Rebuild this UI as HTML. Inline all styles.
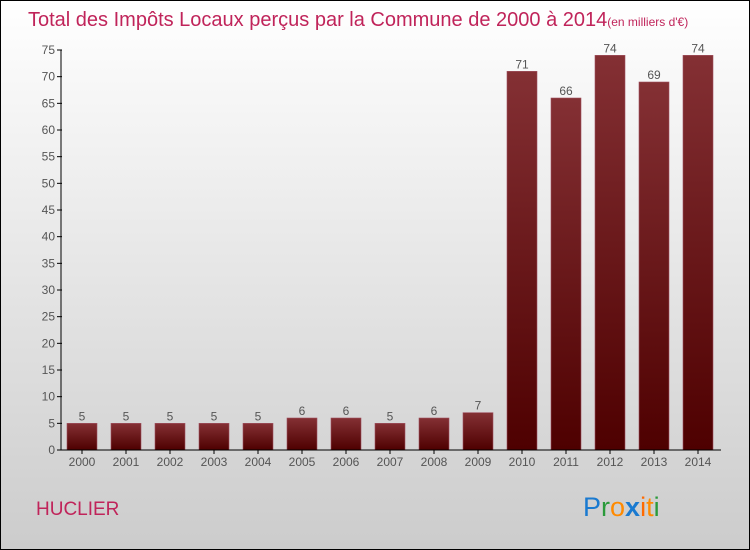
<!DOCTYPE html>
<html><head><meta charset="utf-8"><style>
body{margin:0}
#c{width:750px;height:550px;position:relative;box-sizing:border-box;border:1px solid #000;background:linear-gradient(#fff,#ccc);font-family:"Liberation Sans",sans-serif;overflow:hidden}
</style></head><body>
<div id="c">
<svg id="s" width="750" height="550" style="position:absolute;left:-1px;top:-1px">
<text x="28" y="26" font-size="20" fill="#c0245a">Total des Impôts Locaux perçus par la Commune de 2000 à 2014<tspan font-size="12">(en milliers d'€)</tspan></text>
<text x="36" y="515" font-size="19" fill="#c0245a">HUCLIER</text>
<text x="583" y="516" font-size="27"><tspan fill="#1a7ad0">P</tspan><tspan fill="#2a9a3a">r</tspan><tspan fill="#ff8a00">o</tspan><tspan fill="#1a7ad0" font-weight="bold">x</tspan><tspan fill="#ff6a00">i</tspan><tspan fill="#ff8a00">t</tspan><tspan fill="#2a9a3a">i</tspan></text>
<defs><linearGradient id="g" x1="0" x2="0" y1="0" y2="1"><stop offset="0" stop-color="#843034"/><stop offset="1" stop-color="#4e0000"/></linearGradient></defs>
<g id="plot"></g>
</svg>
</div>
<script>
const categories=["2000","2001","2002","2003","2004","2005","2006","2007","2008","2009","2010","2011","2012","2013","2014"];
const values=[5,5,5,5,5,6,6,5,6,7,71,66,74,69,74];
const yTicks=[0,5,10,15,20,25,30,35,40,45,50,55,60,65,70,75];
const NS="http://www.w3.org/2000/svg";
const g=document.getElementById('plot');
const y=v=>450-v*400/75;
const x=i=>67+i*44;
function mk(t,a,txt){const e=document.createElementNS(NS,t);for(const k in a)e.setAttribute(k,a[k]);if(txt!==undefined)e.textContent=txt;g.appendChild(e);return e;}
yTicks.forEach(v=>{
 const t=mk('line',{x1:57,x2:62,y1:y(v),y2:y(v),stroke:'#000'});
 
 
 const l=mk('text',{x:55,y:y(v)+4,'text-anchor':'end','font-size':12,fill:'#555'},v);
 
 
});
values.forEach((v,i)=>{
 const b=mk('rect',{x:x(i),y:y(v),width:30,height:450-y(v),fill:'url(#g)',stroke:'#a05060','stroke-width':0.6});
 
 
 const vl=mk('text',{x:x(i)+15,y:y(v)-3,'text-anchor':'middle','font-size':12,fill:'#555'},v);
 
 
 const tk=mk('line',{x1:x(i)+15,x2:x(i)+15,y1:450,y2:454,stroke:'#000'});
 
 
 const xl=mk('text',{x:x(i)+15,y:466,'text-anchor':'middle','font-size':12,fill:'#555'},categories[i]);
 
 
});
const ya=mk('line',{x1:61,x2:61,y1:50,y2:450,stroke:'#000'});


const xa=mk('line',{x1:61,x2:721,y1:450,y2:450,stroke:'#000'});


</script>
</body></html>
